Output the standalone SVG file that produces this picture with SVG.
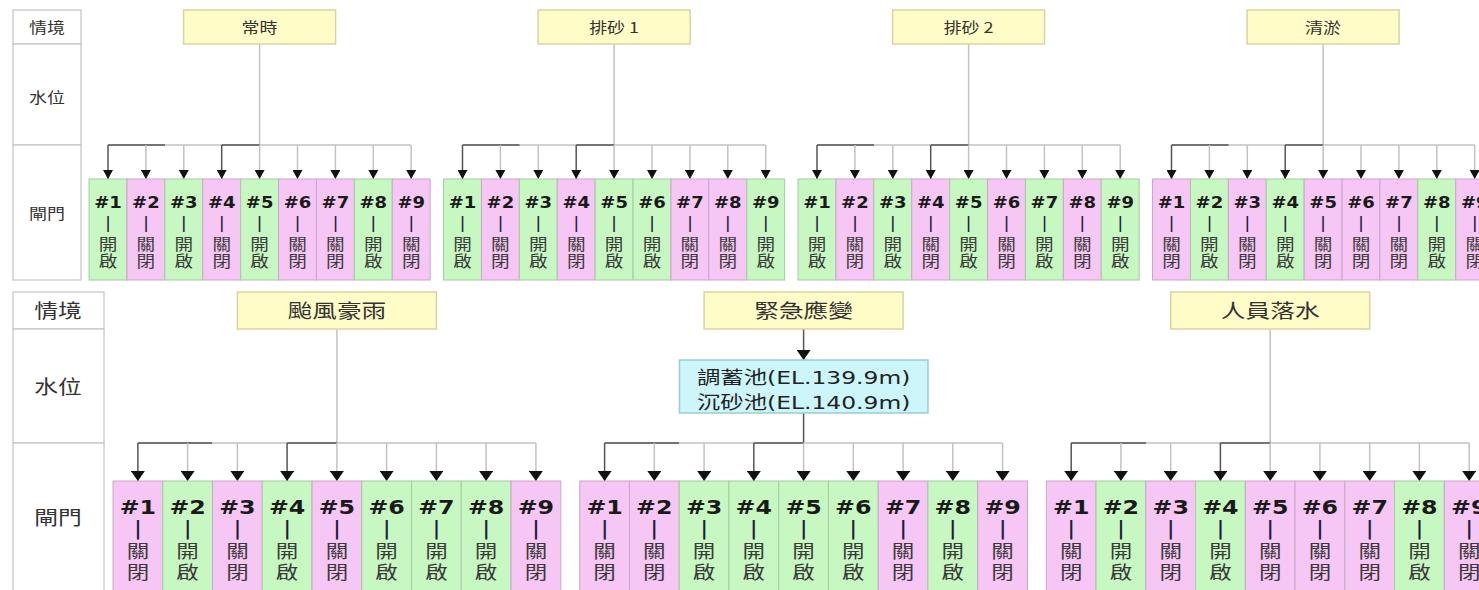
<svg xmlns="http://www.w3.org/2000/svg" width="1479" height="590" viewBox="0 0 1479 590">
<style>
.bg{fill:#ffffff}
.lc{fill:#ffffff;stroke:#c4c4c4;stroke-width:1.2}
.sc{fill:#fffcc8;stroke:#d9d3a2;stroke-width:1.5}
.wl{fill:#cdf6fa;stroke:#96cdd6;stroke-width:1.5}
.op rect{fill:#c8f8c2;stroke:#a8c8a6;stroke-width:1}
.cl rect{fill:#f6c6f4;stroke:#c8a8c8;stroke-width:1}
text{text-anchor:middle}
.lt{font-family:"Noto Sans CJK TC","DejaVu Sans",sans-serif;font-size:15px;fill:#333}
.lb{font-family:"Noto Sans CJK TC","DejaVu Sans",sans-serif;font-size:19px;fill:#333}
.wt{font-family:"DejaVu Sans","Noto Sans CJK TC",sans-serif;font-size:18px;fill:#222}
.t .n{font-family:"DejaVu Sans",sans-serif;font-weight:bold;font-size:15px;fill:#1a1a1a}
.t .b{font-family:"DejaVu Sans",sans-serif;font-size:15px;fill:#1c1c3c}
.t .z{font-family:"Noto Sans CJK TC",sans-serif;font-size:15.5px;fill:#3a3a3a;writing-mode:vertical-rl;letter-spacing:1.5px}
.u .n{font-family:"DejaVu Sans",sans-serif;font-weight:bold;font-size:19px;fill:#1a1a1a}
.u .b{font-family:"DejaVu Sans",sans-serif;font-size:20px;fill:#1c1c3c}
.u .z{font-family:"Noto Sans CJK TC",sans-serif;font-size:18px;fill:#3a3a3a;writing-mode:vertical-rl;letter-spacing:3px}
.lg{stroke:#c2c2c2;stroke-width:1.5;fill:none}
.dk{stroke:#555;stroke-width:1.5;fill:none}
.at{marker-end:url(#ah1)}
.ab{marker-end:url(#ah2)}
</style>
<defs>
<marker id="ah1" markerUnits="userSpaceOnUse" markerWidth="9" markerHeight="10" viewBox="0 0 9 10" refX="9" refY="5" orient="auto"><path d="M0,0 L9,5 L0,10 z" fill="#111"/></marker>
<marker id="ah2" markerUnits="userSpaceOnUse" markerWidth="10" markerHeight="14" viewBox="0 0 10 14" refX="10" refY="7" orient="auto"><path d="M0,0 L10,7 L0,14 z" fill="#111"/></marker>
</defs>
<rect class="bg" x="0" y="0" width="1479" height="590"/>

<g id="labels-top">
<rect class="lc" x="13" y="10" width="68" height="34"/>
<rect class="lc" x="13" y="44" width="68" height="101"/>
<rect class="lc" x="13" y="145" width="68" height="135"/>
<text class="lt" transform="translate(47,32.5) scale(1.2,1)">情境</text>
<text class="lt" transform="translate(47,102.5) scale(1.2,1)">水位</text>
<text class="lt" transform="translate(47,218.5) scale(1.2,1)">閘門</text>
</g>
<g id="labels-bottom">
<rect class="lc" x="13" y="292" width="91" height="37"/>
<rect class="lc" x="13" y="329" width="91" height="114"/>
<rect class="lc" x="13" y="443" width="91" height="160"/>
<text class="lb" transform="translate(58,318) scale(1.25,1)">情境</text>
<text class="lb" transform="translate(58,394) scale(1.25,1)">水位</text>
<text class="lb" transform="translate(58,525) scale(1.25,1)">閘門</text>
</g>

<g id="connectors">
<path class="lg" d="M259.6,44 V145 M108,145 H411.2"/>
<path class="dk" d="M108,145 H165 M221.7,145 H259.6"/>
<path class="dk at" d="M108,145 V179"/><path class="lg at" d="M145.9,145 V179"/><path class="lg at" d="M183.8,145 V179"/><path class="dk at" d="M221.7,145 V179"/><path class="lg at" d="M259.6,145 V179"/><path class="lg at" d="M297.5,145 V179"/><path class="lg at" d="M335.4,145 V179"/><path class="lg at" d="M373.3,145 V179"/><path class="lg at" d="M411.2,145 V179"/>
<path class="lg" d="M614.1,44 V145 M462.5,145 H765.7"/>
<path class="dk" d="M462.5,145 H519.5 M576.2,145 H614.1"/>
<path class="dk at" d="M462.5,145 V179"/><path class="lg at" d="M500.4,145 V179"/><path class="lg at" d="M538.3,145 V179"/><path class="dk at" d="M576.2,145 V179"/><path class="lg at" d="M614.1,145 V179"/><path class="lg at" d="M652,145 V179"/><path class="lg at" d="M689.9,145 V179"/><path class="lg at" d="M727.8,145 V179"/><path class="lg at" d="M765.7,145 V179"/>
<path class="lg" d="M968.6,44 V145 M817,145 H1120.2"/>
<path class="dk" d="M817,145 H874 M930.7,145 H968.6"/>
<path class="dk at" d="M817,145 V179"/><path class="lg at" d="M854.9,145 V179"/><path class="lg at" d="M892.8,145 V179"/><path class="dk at" d="M930.7,145 V179"/><path class="lg at" d="M968.6,145 V179"/><path class="lg at" d="M1006.5,145 V179"/><path class="lg at" d="M1044.4,145 V179"/><path class="lg at" d="M1082.3,145 V179"/><path class="lg at" d="M1120.2,145 V179"/>
<path class="lg" d="M1323.1,44 V145 M1171.5,145 H1474.7"/>
<path class="dk" d="M1171.5,145 H1228.5 M1285.2,145 H1323.1"/>
<path class="dk at" d="M1171.5,145 V179"/><path class="lg at" d="M1209.4,145 V179"/><path class="lg at" d="M1247.3,145 V179"/><path class="dk at" d="M1285.2,145 V179"/><path class="lg at" d="M1323.1,145 V179"/><path class="lg at" d="M1361,145 V179"/><path class="lg at" d="M1398.9,145 V179"/><path class="lg at" d="M1436.8,145 V179"/><path class="lg at" d="M1474.7,145 V179"/>
<path class="lg" d="M336.9,329 V443 M137.9,443 H535.9"/>
<path class="dk" d="M137.9,443 H212 M287.1,443 H336.9"/>
<path class="dk ab" d="M137.9,443 V481"/><path class="lg ab" d="M187.6,443 V481"/><path class="lg ab" d="M237.4,443 V481"/><path class="dk ab" d="M287.1,443 V481"/><path class="lg ab" d="M336.9,443 V481"/><path class="lg ab" d="M386.6,443 V481"/><path class="lg ab" d="M436.4,443 V481"/><path class="lg ab" d="M486.1,443 V481"/><path class="lg ab" d="M535.9,443 V481"/>
<path class="dk ab" d="M803.6,329 V360"/>
<path class="dk" d="M803.6,413 V443"/>
<path class="lg" d="M604.6,443 H1002.6"/>
<path class="dk" d="M604.6,443 H679 M753.8,443 H803.6"/>
<path class="dk ab" d="M604.6,443 V481"/><path class="lg ab" d="M654.3,443 V481"/><path class="lg ab" d="M704.1,443 V481"/><path class="dk ab" d="M753.8,443 V481"/><path class="lg ab" d="M803.6,443 V481"/><path class="lg ab" d="M853.3,443 V481"/><path class="lg ab" d="M903.1,443 V481"/><path class="lg ab" d="M952.8,443 V481"/><path class="lg ab" d="M1002.6,443 V481"/>
<path class="lg" d="M1270.2,329 V443 M1071.2,443 H1469.2"/>
<path class="dk" d="M1071.2,443 H1146 M1220.4,443 H1270.2"/>
<path class="dk ab" d="M1071.2,443 V481"/><path class="lg ab" d="M1120.9,443 V481"/><path class="lg ab" d="M1170.7,443 V481"/><path class="dk ab" d="M1220.4,443 V481"/><path class="lg ab" d="M1270.2,443 V481"/><path class="lg ab" d="M1319.9,443 V481"/><path class="lg ab" d="M1369.7,443 V481"/><path class="lg ab" d="M1419.4,443 V481"/><path class="lg ab" d="M1469.2,443 V481"/>
</g>

<g id="s-normal"><rect class="sc" x="183.6" y="10" width="152" height="34"/><text class="lt" transform="translate(259.6,32.5) scale(1.2,1)">常時</text></g>
<g id="s-flush1"><rect class="sc" x="538.1" y="10" width="152" height="34"/><text class="lt" transform="translate(614.1,32.5) scale(1.2,1)">排砂 1</text></g>
<g id="s-flush2"><rect class="sc" x="892.6" y="10" width="152" height="34"/><text class="lt" transform="translate(968.6,32.5) scale(1.2,1)">排砂 2</text></g>
<g id="s-dredge"><rect class="sc" x="1247.1" y="10" width="152" height="34"/><text class="lt" transform="translate(1323.1,32.5) scale(1.2,1)">清淤</text></g>
<g id="s-typhoon"><rect class="sc" x="237.4" y="292" width="199" height="37"/><text class="lb" transform="translate(336.9,318) scale(1.3,1)">颱風豪雨</text></g>
<g id="s-emergency"><rect class="sc" x="704.1" y="292" width="199" height="37"/><text class="lb" transform="translate(803.6,318) scale(1.3,1)">緊急應變</text></g>
<g id="s-fall"><rect class="sc" x="1170.7" y="292" width="199" height="37"/><text class="lb" transform="translate(1270.2,318) scale(1.3,1)">人員落水</text></g>
<g id="w-emergency"><rect class="wl" x="679.5" y="360" width="248.5" height="53"/>
<text class="wt" transform="translate(803.6,383.5) scale(1.3,1)">調蓄池(EL.139.9m)</text>
<text class="wt" transform="translate(803.6,408.5) scale(1.3,1)">沉砂池(EL.140.9m)</text></g>

<g id="g-a1" class="t op" transform="translate(108,179)"><rect x="-18.95" width="37.9" height="101"/><text transform="scale(1.2,1)"><tspan class="n" x="0" y="29.5">#1</tspan><tspan class="b" x="0" y="49.5">|</tspan></text><text class="z" transform="scale(1.2,1)" x="0" y="74">開啟</text></g>
<g id="g-a2" class="t cl" transform="translate(145.9,179)"><rect x="-18.95" width="37.9" height="101"/><text transform="scale(1.2,1)"><tspan class="n" x="0" y="29.5">#2</tspan><tspan class="b" x="0" y="49.5">|</tspan></text><text class="z" transform="scale(1.2,1)" x="0" y="74">關閉</text></g>
<g id="g-a3" class="t op" transform="translate(183.8,179)"><rect x="-18.95" width="37.9" height="101"/><text transform="scale(1.2,1)"><tspan class="n" x="0" y="29.5">#3</tspan><tspan class="b" x="0" y="49.5">|</tspan></text><text class="z" transform="scale(1.2,1)" x="0" y="74">開啟</text></g>
<g id="g-a4" class="t cl" transform="translate(221.7,179)"><rect x="-18.95" width="37.9" height="101"/><text transform="scale(1.2,1)"><tspan class="n" x="0" y="29.5">#4</tspan><tspan class="b" x="0" y="49.5">|</tspan></text><text class="z" transform="scale(1.2,1)" x="0" y="74">關閉</text></g>
<g id="g-a5" class="t op" transform="translate(259.6,179)"><rect x="-18.95" width="37.9" height="101"/><text transform="scale(1.2,1)"><tspan class="n" x="0" y="29.5">#5</tspan><tspan class="b" x="0" y="49.5">|</tspan></text><text class="z" transform="scale(1.2,1)" x="0" y="74">開啟</text></g>
<g id="g-a6" class="t cl" transform="translate(297.5,179)"><rect x="-18.95" width="37.9" height="101"/><text transform="scale(1.2,1)"><tspan class="n" x="0" y="29.5">#6</tspan><tspan class="b" x="0" y="49.5">|</tspan></text><text class="z" transform="scale(1.2,1)" x="0" y="74">關閉</text></g>
<g id="g-a7" class="t cl" transform="translate(335.4,179)"><rect x="-18.95" width="37.9" height="101"/><text transform="scale(1.2,1)"><tspan class="n" x="0" y="29.5">#7</tspan><tspan class="b" x="0" y="49.5">|</tspan></text><text class="z" transform="scale(1.2,1)" x="0" y="74">關閉</text></g>
<g id="g-a8" class="t op" transform="translate(373.3,179)"><rect x="-18.95" width="37.9" height="101"/><text transform="scale(1.2,1)"><tspan class="n" x="0" y="29.5">#8</tspan><tspan class="b" x="0" y="49.5">|</tspan></text><text class="z" transform="scale(1.2,1)" x="0" y="74">開啟</text></g>
<g id="g-a9" class="t cl" transform="translate(411.2,179)"><rect x="-18.95" width="37.9" height="101"/><text transform="scale(1.2,1)"><tspan class="n" x="0" y="29.5">#9</tspan><tspan class="b" x="0" y="49.5">|</tspan></text><text class="z" transform="scale(1.2,1)" x="0" y="74">關閉</text></g>

<g id="g-b1" class="t op" transform="translate(462.5,179)"><rect x="-18.95" width="37.9" height="101"/><text transform="scale(1.2,1)"><tspan class="n" x="0" y="29.5">#1</tspan><tspan class="b" x="0" y="49.5">|</tspan></text><text class="z" transform="scale(1.2,1)" x="0" y="74">開啟</text></g>
<g id="g-b2" class="t cl" transform="translate(500.4,179)"><rect x="-18.95" width="37.9" height="101"/><text transform="scale(1.2,1)"><tspan class="n" x="0" y="29.5">#2</tspan><tspan class="b" x="0" y="49.5">|</tspan></text><text class="z" transform="scale(1.2,1)" x="0" y="74">關閉</text></g>
<g id="g-b3" class="t op" transform="translate(538.3,179)"><rect x="-18.95" width="37.9" height="101"/><text transform="scale(1.2,1)"><tspan class="n" x="0" y="29.5">#3</tspan><tspan class="b" x="0" y="49.5">|</tspan></text><text class="z" transform="scale(1.2,1)" x="0" y="74">開啟</text></g>
<g id="g-b4" class="t cl" transform="translate(576.2,179)"><rect x="-18.95" width="37.9" height="101"/><text transform="scale(1.2,1)"><tspan class="n" x="0" y="29.5">#4</tspan><tspan class="b" x="0" y="49.5">|</tspan></text><text class="z" transform="scale(1.2,1)" x="0" y="74">關閉</text></g>
<g id="g-b5" class="t op" transform="translate(614.1,179)"><rect x="-18.95" width="37.9" height="101"/><text transform="scale(1.2,1)"><tspan class="n" x="0" y="29.5">#5</tspan><tspan class="b" x="0" y="49.5">|</tspan></text><text class="z" transform="scale(1.2,1)" x="0" y="74">開啟</text></g>
<g id="g-b6" class="t op" transform="translate(652,179)"><rect x="-18.95" width="37.9" height="101"/><text transform="scale(1.2,1)"><tspan class="n" x="0" y="29.5">#6</tspan><tspan class="b" x="0" y="49.5">|</tspan></text><text class="z" transform="scale(1.2,1)" x="0" y="74">開啟</text></g>
<g id="g-b7" class="t cl" transform="translate(689.9,179)"><rect x="-18.95" width="37.9" height="101"/><text transform="scale(1.2,1)"><tspan class="n" x="0" y="29.5">#7</tspan><tspan class="b" x="0" y="49.5">|</tspan></text><text class="z" transform="scale(1.2,1)" x="0" y="74">關閉</text></g>
<g id="g-b8" class="t cl" transform="translate(727.8,179)"><rect x="-18.95" width="37.9" height="101"/><text transform="scale(1.2,1)"><tspan class="n" x="0" y="29.5">#8</tspan><tspan class="b" x="0" y="49.5">|</tspan></text><text class="z" transform="scale(1.2,1)" x="0" y="74">關閉</text></g>
<g id="g-b9" class="t op" transform="translate(765.7,179)"><rect x="-18.95" width="37.9" height="101"/><text transform="scale(1.2,1)"><tspan class="n" x="0" y="29.5">#9</tspan><tspan class="b" x="0" y="49.5">|</tspan></text><text class="z" transform="scale(1.2,1)" x="0" y="74">開啟</text></g>

<g id="g-c1" class="t op" transform="translate(817,179)"><rect x="-18.95" width="37.9" height="101"/><text transform="scale(1.2,1)"><tspan class="n" x="0" y="29.5">#1</tspan><tspan class="b" x="0" y="49.5">|</tspan></text><text class="z" transform="scale(1.2,1)" x="0" y="74">開啟</text></g>
<g id="g-c2" class="t cl" transform="translate(854.9,179)"><rect x="-18.95" width="37.9" height="101"/><text transform="scale(1.2,1)"><tspan class="n" x="0" y="29.5">#2</tspan><tspan class="b" x="0" y="49.5">|</tspan></text><text class="z" transform="scale(1.2,1)" x="0" y="74">關閉</text></g>
<g id="g-c3" class="t op" transform="translate(892.8,179)"><rect x="-18.95" width="37.9" height="101"/><text transform="scale(1.2,1)"><tspan class="n" x="0" y="29.5">#3</tspan><tspan class="b" x="0" y="49.5">|</tspan></text><text class="z" transform="scale(1.2,1)" x="0" y="74">開啟</text></g>
<g id="g-c4" class="t cl" transform="translate(930.7,179)"><rect x="-18.95" width="37.9" height="101"/><text transform="scale(1.2,1)"><tspan class="n" x="0" y="29.5">#4</tspan><tspan class="b" x="0" y="49.5">|</tspan></text><text class="z" transform="scale(1.2,1)" x="0" y="74">關閉</text></g>
<g id="g-c5" class="t op" transform="translate(968.6,179)"><rect x="-18.95" width="37.9" height="101"/><text transform="scale(1.2,1)"><tspan class="n" x="0" y="29.5">#5</tspan><tspan class="b" x="0" y="49.5">|</tspan></text><text class="z" transform="scale(1.2,1)" x="0" y="74">開啟</text></g>
<g id="g-c6" class="t cl" transform="translate(1006.5,179)"><rect x="-18.95" width="37.9" height="101"/><text transform="scale(1.2,1)"><tspan class="n" x="0" y="29.5">#6</tspan><tspan class="b" x="0" y="49.5">|</tspan></text><text class="z" transform="scale(1.2,1)" x="0" y="74">關閉</text></g>
<g id="g-c7" class="t op" transform="translate(1044.4,179)"><rect x="-18.95" width="37.9" height="101"/><text transform="scale(1.2,1)"><tspan class="n" x="0" y="29.5">#7</tspan><tspan class="b" x="0" y="49.5">|</tspan></text><text class="z" transform="scale(1.2,1)" x="0" y="74">開啟</text></g>
<g id="g-c8" class="t cl" transform="translate(1082.3,179)"><rect x="-18.95" width="37.9" height="101"/><text transform="scale(1.2,1)"><tspan class="n" x="0" y="29.5">#8</tspan><tspan class="b" x="0" y="49.5">|</tspan></text><text class="z" transform="scale(1.2,1)" x="0" y="74">關閉</text></g>
<g id="g-c9" class="t op" transform="translate(1120.2,179)"><rect x="-18.95" width="37.9" height="101"/><text transform="scale(1.2,1)"><tspan class="n" x="0" y="29.5">#9</tspan><tspan class="b" x="0" y="49.5">|</tspan></text><text class="z" transform="scale(1.2,1)" x="0" y="74">開啟</text></g>

<g id="g-d1" class="t cl" transform="translate(1171.5,179)"><rect x="-18.95" width="37.9" height="101"/><text transform="scale(1.2,1)"><tspan class="n" x="0" y="29.5">#1</tspan><tspan class="b" x="0" y="49.5">|</tspan></text><text class="z" transform="scale(1.2,1)" x="0" y="74">關閉</text></g>
<g id="g-d2" class="t op" transform="translate(1209.4,179)"><rect x="-18.95" width="37.9" height="101"/><text transform="scale(1.2,1)"><tspan class="n" x="0" y="29.5">#2</tspan><tspan class="b" x="0" y="49.5">|</tspan></text><text class="z" transform="scale(1.2,1)" x="0" y="74">開啟</text></g>
<g id="g-d3" class="t cl" transform="translate(1247.3,179)"><rect x="-18.95" width="37.9" height="101"/><text transform="scale(1.2,1)"><tspan class="n" x="0" y="29.5">#3</tspan><tspan class="b" x="0" y="49.5">|</tspan></text><text class="z" transform="scale(1.2,1)" x="0" y="74">關閉</text></g>
<g id="g-d4" class="t op" transform="translate(1285.2,179)"><rect x="-18.95" width="37.9" height="101"/><text transform="scale(1.2,1)"><tspan class="n" x="0" y="29.5">#4</tspan><tspan class="b" x="0" y="49.5">|</tspan></text><text class="z" transform="scale(1.2,1)" x="0" y="74">開啟</text></g>
<g id="g-d5" class="t cl" transform="translate(1323.1,179)"><rect x="-18.95" width="37.9" height="101"/><text transform="scale(1.2,1)"><tspan class="n" x="0" y="29.5">#5</tspan><tspan class="b" x="0" y="49.5">|</tspan></text><text class="z" transform="scale(1.2,1)" x="0" y="74">關閉</text></g>
<g id="g-d6" class="t cl" transform="translate(1361,179)"><rect x="-18.95" width="37.9" height="101"/><text transform="scale(1.2,1)"><tspan class="n" x="0" y="29.5">#6</tspan><tspan class="b" x="0" y="49.5">|</tspan></text><text class="z" transform="scale(1.2,1)" x="0" y="74">關閉</text></g>
<g id="g-d7" class="t cl" transform="translate(1398.9,179)"><rect x="-18.95" width="37.9" height="101"/><text transform="scale(1.2,1)"><tspan class="n" x="0" y="29.5">#7</tspan><tspan class="b" x="0" y="49.5">|</tspan></text><text class="z" transform="scale(1.2,1)" x="0" y="74">關閉</text></g>
<g id="g-d8" class="t op" transform="translate(1436.8,179)"><rect x="-18.95" width="37.9" height="101"/><text transform="scale(1.2,1)"><tspan class="n" x="0" y="29.5">#8</tspan><tspan class="b" x="0" y="49.5">|</tspan></text><text class="z" transform="scale(1.2,1)" x="0" y="74">開啟</text></g>
<g id="g-d9" class="t cl" transform="translate(1474.7,179)"><rect x="-18.95" width="37.9" height="101"/><text transform="scale(1.2,1)"><tspan class="n" x="0" y="29.5">#9</tspan><tspan class="b" x="0" y="49.5">|</tspan></text><text class="z" transform="scale(1.2,1)" x="0" y="74">關閉</text></g>

<g id="g-e1" class="u cl" transform="translate(137.9,481)"><rect x="-24.875" width="49.75" height="120"/><text transform="scale(1.25,1)"><tspan class="n" x="0" y="33">#1</tspan><tspan class="b" x="0" y="54">|</tspan></text><text class="z" transform="scale(1.25,1)" x="0" y="82.5">關閉</text></g>
<g id="g-e2" class="u op" transform="translate(187.6,481)"><rect x="-24.875" width="49.75" height="120"/><text transform="scale(1.25,1)"><tspan class="n" x="0" y="33">#2</tspan><tspan class="b" x="0" y="54">|</tspan></text><text class="z" transform="scale(1.25,1)" x="0" y="82.5">開啟</text></g>
<g id="g-e3" class="u cl" transform="translate(237.4,481)"><rect x="-24.875" width="49.75" height="120"/><text transform="scale(1.25,1)"><tspan class="n" x="0" y="33">#3</tspan><tspan class="b" x="0" y="54">|</tspan></text><text class="z" transform="scale(1.25,1)" x="0" y="82.5">關閉</text></g>
<g id="g-e4" class="u op" transform="translate(287.1,481)"><rect x="-24.875" width="49.75" height="120"/><text transform="scale(1.25,1)"><tspan class="n" x="0" y="33">#4</tspan><tspan class="b" x="0" y="54">|</tspan></text><text class="z" transform="scale(1.25,1)" x="0" y="82.5">開啟</text></g>
<g id="g-e5" class="u cl" transform="translate(336.9,481)"><rect x="-24.875" width="49.75" height="120"/><text transform="scale(1.25,1)"><tspan class="n" x="0" y="33">#5</tspan><tspan class="b" x="0" y="54">|</tspan></text><text class="z" transform="scale(1.25,1)" x="0" y="82.5">關閉</text></g>
<g id="g-e6" class="u op" transform="translate(386.6,481)"><rect x="-24.875" width="49.75" height="120"/><text transform="scale(1.25,1)"><tspan class="n" x="0" y="33">#6</tspan><tspan class="b" x="0" y="54">|</tspan></text><text class="z" transform="scale(1.25,1)" x="0" y="82.5">開啟</text></g>
<g id="g-e7" class="u op" transform="translate(436.4,481)"><rect x="-24.875" width="49.75" height="120"/><text transform="scale(1.25,1)"><tspan class="n" x="0" y="33">#7</tspan><tspan class="b" x="0" y="54">|</tspan></text><text class="z" transform="scale(1.25,1)" x="0" y="82.5">開啟</text></g>
<g id="g-e8" class="u op" transform="translate(486.1,481)"><rect x="-24.875" width="49.75" height="120"/><text transform="scale(1.25,1)"><tspan class="n" x="0" y="33">#8</tspan><tspan class="b" x="0" y="54">|</tspan></text><text class="z" transform="scale(1.25,1)" x="0" y="82.5">開啟</text></g>
<g id="g-e9" class="u cl" transform="translate(535.9,481)"><rect x="-24.875" width="49.75" height="120"/><text transform="scale(1.25,1)"><tspan class="n" x="0" y="33">#9</tspan><tspan class="b" x="0" y="54">|</tspan></text><text class="z" transform="scale(1.25,1)" x="0" y="82.5">關閉</text></g>

<g id="g-f1" class="u cl" transform="translate(604.6,481)"><rect x="-24.875" width="49.75" height="120"/><text transform="scale(1.25,1)"><tspan class="n" x="0" y="33">#1</tspan><tspan class="b" x="0" y="54">|</tspan></text><text class="z" transform="scale(1.25,1)" x="0" y="82.5">關閉</text></g>
<g id="g-f2" class="u cl" transform="translate(654.3,481)"><rect x="-24.875" width="49.75" height="120"/><text transform="scale(1.25,1)"><tspan class="n" x="0" y="33">#2</tspan><tspan class="b" x="0" y="54">|</tspan></text><text class="z" transform="scale(1.25,1)" x="0" y="82.5">關閉</text></g>
<g id="g-f3" class="u op" transform="translate(704.1,481)"><rect x="-24.875" width="49.75" height="120"/><text transform="scale(1.25,1)"><tspan class="n" x="0" y="33">#3</tspan><tspan class="b" x="0" y="54">|</tspan></text><text class="z" transform="scale(1.25,1)" x="0" y="82.5">開啟</text></g>
<g id="g-f4" class="u op" transform="translate(753.8,481)"><rect x="-24.875" width="49.75" height="120"/><text transform="scale(1.25,1)"><tspan class="n" x="0" y="33">#4</tspan><tspan class="b" x="0" y="54">|</tspan></text><text class="z" transform="scale(1.25,1)" x="0" y="82.5">開啟</text></g>
<g id="g-f5" class="u op" transform="translate(803.6,481)"><rect x="-24.875" width="49.75" height="120"/><text transform="scale(1.25,1)"><tspan class="n" x="0" y="33">#5</tspan><tspan class="b" x="0" y="54">|</tspan></text><text class="z" transform="scale(1.25,1)" x="0" y="82.5">開啟</text></g>
<g id="g-f6" class="u op" transform="translate(853.3,481)"><rect x="-24.875" width="49.75" height="120"/><text transform="scale(1.25,1)"><tspan class="n" x="0" y="33">#6</tspan><tspan class="b" x="0" y="54">|</tspan></text><text class="z" transform="scale(1.25,1)" x="0" y="82.5">開啟</text></g>
<g id="g-f7" class="u cl" transform="translate(903.1,481)"><rect x="-24.875" width="49.75" height="120"/><text transform="scale(1.25,1)"><tspan class="n" x="0" y="33">#7</tspan><tspan class="b" x="0" y="54">|</tspan></text><text class="z" transform="scale(1.25,1)" x="0" y="82.5">關閉</text></g>
<g id="g-f8" class="u op" transform="translate(952.8,481)"><rect x="-24.875" width="49.75" height="120"/><text transform="scale(1.25,1)"><tspan class="n" x="0" y="33">#8</tspan><tspan class="b" x="0" y="54">|</tspan></text><text class="z" transform="scale(1.25,1)" x="0" y="82.5">開啟</text></g>
<g id="g-f9" class="u cl" transform="translate(1002.6,481)"><rect x="-24.875" width="49.75" height="120"/><text transform="scale(1.25,1)"><tspan class="n" x="0" y="33">#9</tspan><tspan class="b" x="0" y="54">|</tspan></text><text class="z" transform="scale(1.25,1)" x="0" y="82.5">關閉</text></g>

<g id="g-h1" class="u cl" transform="translate(1071.2,481)"><rect x="-24.875" width="49.75" height="120"/><text transform="scale(1.25,1)"><tspan class="n" x="0" y="33">#1</tspan><tspan class="b" x="0" y="54">|</tspan></text><text class="z" transform="scale(1.25,1)" x="0" y="82.5">關閉</text></g>
<g id="g-h2" class="u op" transform="translate(1120.9,481)"><rect x="-24.875" width="49.75" height="120"/><text transform="scale(1.25,1)"><tspan class="n" x="0" y="33">#2</tspan><tspan class="b" x="0" y="54">|</tspan></text><text class="z" transform="scale(1.25,1)" x="0" y="82.5">開啟</text></g>
<g id="g-h3" class="u cl" transform="translate(1170.7,481)"><rect x="-24.875" width="49.75" height="120"/><text transform="scale(1.25,1)"><tspan class="n" x="0" y="33">#3</tspan><tspan class="b" x="0" y="54">|</tspan></text><text class="z" transform="scale(1.25,1)" x="0" y="82.5">關閉</text></g>
<g id="g-h4" class="u op" transform="translate(1220.4,481)"><rect x="-24.875" width="49.75" height="120"/><text transform="scale(1.25,1)"><tspan class="n" x="0" y="33">#4</tspan><tspan class="b" x="0" y="54">|</tspan></text><text class="z" transform="scale(1.25,1)" x="0" y="82.5">開啟</text></g>
<g id="g-h5" class="u cl" transform="translate(1270.2,481)"><rect x="-24.875" width="49.75" height="120"/><text transform="scale(1.25,1)"><tspan class="n" x="0" y="33">#5</tspan><tspan class="b" x="0" y="54">|</tspan></text><text class="z" transform="scale(1.25,1)" x="0" y="82.5">關閉</text></g>
<g id="g-h6" class="u cl" transform="translate(1319.9,481)"><rect x="-24.875" width="49.75" height="120"/><text transform="scale(1.25,1)"><tspan class="n" x="0" y="33">#6</tspan><tspan class="b" x="0" y="54">|</tspan></text><text class="z" transform="scale(1.25,1)" x="0" y="82.5">關閉</text></g>
<g id="g-h7" class="u cl" transform="translate(1369.7,481)"><rect x="-24.875" width="49.75" height="120"/><text transform="scale(1.25,1)"><tspan class="n" x="0" y="33">#7</tspan><tspan class="b" x="0" y="54">|</tspan></text><text class="z" transform="scale(1.25,1)" x="0" y="82.5">關閉</text></g>
<g id="g-h8" class="u op" transform="translate(1419.4,481)"><rect x="-24.875" width="49.75" height="120"/><text transform="scale(1.25,1)"><tspan class="n" x="0" y="33">#8</tspan><tspan class="b" x="0" y="54">|</tspan></text><text class="z" transform="scale(1.25,1)" x="0" y="82.5">開啟</text></g>
<g id="g-h9" class="u cl" transform="translate(1469.2,481)"><rect x="-24.875" width="49.75" height="120"/><text transform="scale(1.25,1)"><tspan class="n" x="0" y="33">#9</tspan><tspan class="b" x="0" y="54">|</tspan></text><text class="z" transform="scale(1.25,1)" x="0" y="82.5">關閉</text></g>
</svg>
